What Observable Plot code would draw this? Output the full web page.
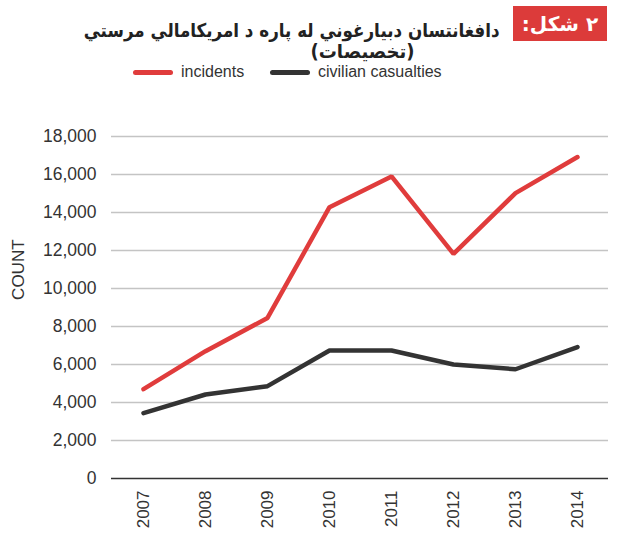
<!DOCTYPE html>
<html><head><meta charset="utf-8">
<script src="https://cdn.jsdelivr.net/npm/d3@7"></script>
<script src="https://cdn.jsdelivr.net/npm/@observablehq/plot@0.6"></script>
<style>
body{margin:0;background:#fff;font-family:"Liberation Sans",Arial,sans-serif;}
#wrap{position:relative;width:619px;height:554px;overflow:hidden;}
#chart{position:absolute;left:0;top:0;}
.t1,.t2{position:absolute;direction:rtl;font-family:"DejaVu Sans",sans-serif;font-weight:bold;font-size:19px;color:#222;white-space:nowrap;transform-origin:right center;}
.t1{right:119px;top:19px;transform:scaleX(0.88);}
.t2{right:204px;top:40px;transform:scaleX(0.95);}
.badge{position:absolute;left:513px;top:6px;width:94px;height:35px;background:#dc3b3a;color:#fff;font-family:"DejaVu Sans",sans-serif;font-weight:bold;font-size:20px;direction:rtl;display:flex;align-items:center;justify-content:center;}
.leg{position:absolute;top:63px;font-size:16px;color:#333;display:flex;align-items:center;}
.sw{display:inline-block;width:40px;height:5px;border-radius:3px;margin-right:8px;}
</style></head>
<body><div id="wrap">
<div id="chart"></div>
<div class="badge">۲ شکل:</div>
<div class="t1">دافغانتسان دبیارغوني له پاره د امریکامالي مرستي</div>
<div class="t2">(تخصیصات)</div>
<div class="leg" style="left:133px"><span class="sw" style="background:#e03c3c"></span>incidents</div>
<div class="leg" style="left:270px"><span class="sw" style="background:#333"></span>civilian casualties</div>
</div>
<script>
const years = ["2007","2008","2009","2010","2011","2012","2013","2014"];
const incidents = [4700, 6700, 8450, 14280, 15900, 11820, 15020, 16920];
const casualties = [3440, 4420, 4860, 6740, 6740, 6000, 5750, 6920];
const yTicks = [0, 2000, 4000, 6000, 8000, 10000, 12000, 14000, 16000, 18000];
const seriesNames = ["incidents", "civilian casualties"];
const seriesColors = ["#e03c3c", "#333333"];

const rows = [];
years.forEach((y, i) => {
  rows.push({year: y, value: incidents[i], series: seriesNames[0]});
  rows.push({year: y, value: casualties[i], series: seriesNames[1]});
});

const chart = Plot.plot({
  width: 619,
  height: 554,
  marginTop: 136,
  marginBottom: 76,
  marginLeft: 111,
  marginRight: 11,
  style: {fontFamily: '"Liberation Sans", Arial, sans-serif', fontSize: "17px", color: "#333", background: "transparent"},
  x: {type: "point", domain: years, padding: 0.5},
  y: {domain: [0, 18000]},
  color: {domain: seriesNames, range: seriesColors},
  marks: [
    Plot.ruleY(yTicks.filter(d => d > 0), {stroke: "#c4c4c4", strokeWidth: 1.5}),
    Plot.ruleY([0], {stroke: "#333", strokeWidth: 1.5}),
    Plot.axisY(yTicks, {tickSize: 0, tickPadding: 15, tickFormat: d3.format(","), fontSize: 17.5, fill: "#333", label: null}),
    Plot.axisX({tickSize: 0, tickPadding: 12, tickRotate: -90, fontSize: 17, fill: "#333", label: null}),
    Plot.line(rows, {x: "year", y: "value", z: "series", stroke: "series", strokeWidth: 4.5, strokeLinejoin: "miter", strokeLinecap: "round"}),
    Plot.text(["COUNT"], {frameAnchor: "left", dx: -93, y: [9400], rotate: -90, fontSize: 17, fill: "#333"})
  ]
});
document.getElementById("chart").appendChild(chart);
</script>
</body></html>
